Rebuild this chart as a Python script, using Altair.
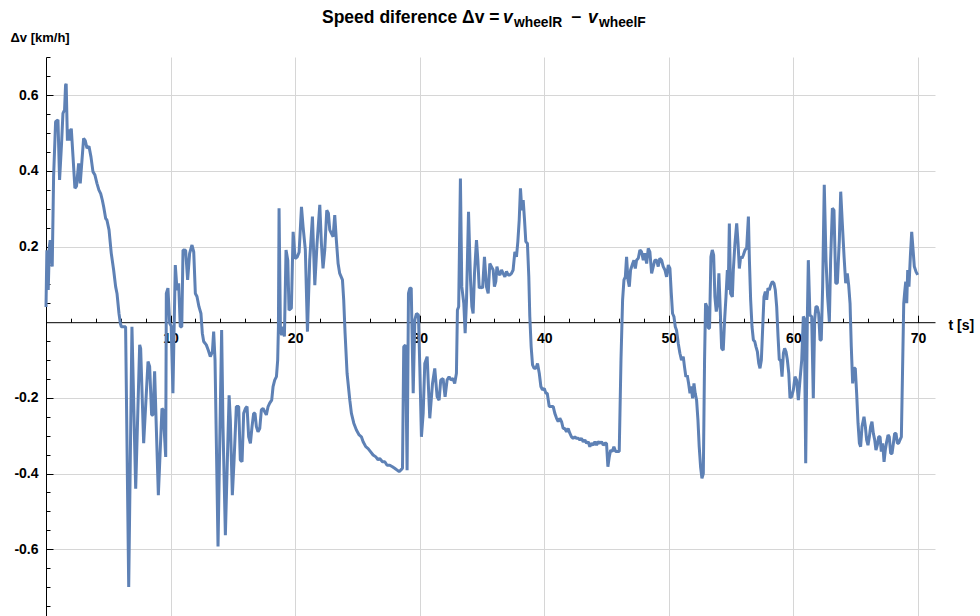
import altair as alt
import pandas as pd

# ---- data (t in s, dv in km/h) ----
t_seg1 = [0.0, 0.07, 0.18, 0.27, 0.34, 0.5, 0.61, 0.77, 0.96, 1.09, 1.25, 1.36, 1.49, 1.57, 1.62, 1.72, 1.8,
          1.9, 2.03, 2.17, 2.32, 2.45, 2.62, 2.75, 2.89, 3.02, 3.15, 3.29, 3.45, 3.61, 3.77, 3.93, 4.09, 4.25,
          4.39, 4.52, 4.63, 4.79, 4.89, 5.06, 5.24, 5.43, 5.59, 5.7, 5.86, 5.97, 6.05, 6.39]
v_seg1 = [0.04, 0.19, 0.085, 0.2, 0.217, 0.147, 0.385, 0.53, 0.535, 0.376, 0.473, 0.552, 0.561, 0.627, 0.63,
          0.48, 0.51, 0.48, 0.512, 0.437, 0.354, 0.36, 0.42, 0.367, 0.429, 0.486, 0.48, 0.46, 0.465, 0.437,
          0.398, 0.389, 0.367, 0.349, 0.34, 0.323, 0.305, 0.274, 0.27, 0.244, 0.182, 0.138, 0.094, 0.076,
          0.023, -0.003, -0.012, -0.012]

t_seg2 = [6.64, 6.9, 7.2, 7.52, 7.6, 7.84, 8.19, 8.32, 8.48, 8.59, 8.72, 9.02, 9.31, 9.4, 9.61, 9.66, 9.79,
          9.93, 10.05, 10.19, 10.38, 10.52, 10.65, 10.78, 10.9, 11.0, 11.21, 11.37, 11.53, 11.72, 11.86, 11.99,
          12.12, 12.28, 12.44]
v_seg2 = [-0.70, -0.012, -0.44, -0.06, -0.07, -0.32, -0.104, -0.117, -0.245, -0.245, -0.13, -0.457, -0.228,
          -0.232, -0.356, 0.076, 0.09, -0.003, -0.01, -0.188, 0.151, 0.085, 0.103, -0.012, -0.012, 0.191, 0.19,
          0.112, 0.182, 0.204, 0.186, 0.076, 0.068, 0.041, 0.023]

t_seg3 = [12.55, 12.66, 12.87, 13.03, 13.19, 13.36, 13.46, 13.57, 13.81, 14.1, 14.21, 14.4, 14.56, 14.7, 14.8,
          14.96, 15.1, 15.28, 15.47, 15.6, 15.74, 15.87, 16.01, 16.14, 16.27, 16.41, 16.54, 16.67, 16.78, 16.89,
          17.02, 17.16, 17.29, 17.43, 17.56, 17.69, 17.83, 17.96, 18.12, 18.23, 18.36, 18.5, 18.6, 18.66, 18.71,
          18.82, 18.92, 19.03, 19.14, 19.27, 19.41, 19.51, 19.7, 19.84, 20.0, 20.16, 20.32, 20.51, 20.64, 20.82,
          20.99, 21.17, 21.39, 21.58, 21.76, 21.98, 22.11, 22.24, 22.38, 22.54, 22.67, 22.78, 22.91, 23.05,
          23.18, 23.31, 23.45, 23.58, 23.8, 23.9, 24.01, 24.17, 24.39]
v_seg3 = [-0.029, -0.051, -0.06, -0.074, -0.091, -0.078, -0.025, -0.1, -0.593, -0.021, -0.276, -0.563, -0.364,
          -0.193, -0.259, -0.457, -0.364, -0.223, -0.223, -0.364, -0.369, -0.241, -0.228, -0.223, -0.303, -0.32,
          -0.276, -0.241, -0.241, -0.276, -0.29, -0.281, -0.232, -0.228, -0.237, -0.245, -0.223, -0.214, -0.206,
          -0.17, -0.153, -0.144, -0.1, -0.012, 0.301, -0.021, -0.034, -0.012, -0.038, 0.191, 0.164, 0.032, 0.037,
          0.239, 0.168, 0.172, 0.185, 0.305, 0.252, 0.191, -0.025, 0.164, 0.279, 0.098, 0.208, 0.31, 0.208,
          0.142, 0.191, 0.296, 0.288, 0.244, 0.235, 0.226, 0.283, 0.217, 0.155, 0.129, 0.112, 0.059, -0.029,
          -0.135, -0.206]

t_seg4 = [24.52, 24.71, 24.92, 25.14, 25.32, 25.46, 25.67, 25.86, 26.05, 26.26, 26.48, 26.66, 26.79, 27.01,
          27.2, 27.38, 27.6, 27.81, 27.99, 28.19, 28.35, 28.48, 28.62, 28.72, 28.86, 28.99, 29.1, 29.21, 29.32,
          29.48, 29.61, 29.74, 29.9, 30.01, 30.14, 30.28, 30.41, 30.6, 30.81, 31.03, 31.21, 31.4, 31.56, 31.69,
          31.88, 32.04, 32.2, 32.36, 32.52, 32.68, 32.81, 32.95, 33.03, 33.13, 33.27, 33.38, 33.54, 33.65, 33.76,
          33.92, 34.08, 34.19, 34.29, 34.4, 34.56, 34.67, 34.78, 34.94, 35.05, 35.2, 35.36, 35.5]
v_seg4 = [-0.241, -0.267, -0.285, -0.298, -0.303, -0.316, -0.329, -0.334, -0.342, -0.351, -0.356, -0.364,
          -0.36, -0.369, -0.369, -0.378, -0.378, -0.382, -0.386, -0.391, -0.395, -0.391, -0.386, -0.065, -0.06,
          -0.391, 0.076, 0.09, 0.09, -0.188, 0.006, 0.023, 0.019, -0.118, -0.303, -0.241, -0.109, -0.091, -0.254,
          -0.162, -0.122, -0.197, -0.206, -0.153, -0.149, -0.197, -0.153, -0.144, -0.153, -0.149, -0.162, -0.135,
          0.032, 0.041, 0.38, 0.094, 0.05, -0.029, 0.059, 0.292, 0.112, 0.041, 0.023, 0.129, 0.217, 0.164, 0.09,
          0.094, 0.09, 0.173, 0.094, 0.076]

t_seg5 = [35.63, 35.76, 35.9, 36.0, 36.11, 36.2, 36.33, 36.44, 36.57, 36.7, 36.84, 36.97, 37.1, 37.24, 37.37,
          37.5, 37.64, 37.77, 37.88, 37.99, 38.09, 38.2, 38.31, 38.41, 38.52, 38.65, 38.76, 38.84, 38.95, 39.06,
          39.19, 39.33, 39.46, 39.6, 39.73, 39.86, 40.0, 40.13, 40.24, 40.4, 40.58, 40.72, 40.85, 40.99, 41.12,
          41.25, 41.39, 41.52, 41.65, 41.79, 41.92, 42.06, 42.19, 42.32, 42.46, 42.59, 42.73, 42.86, 42.99,
          43.13, 43.26, 43.4, 43.53, 43.66, 43.8, 43.93, 44.07, 44.2, 44.33, 44.47, 44.6, 44.74, 44.87, 45.0,
          45.11, 45.22, 45.33, 45.46, 45.59, 45.73, 45.86, 46.02, 46.16, 46.29, 46.4, 46.51, 46.61, 46.72,
          46.83, 46.93, 47.1, 47.2, 47.31, 47.41, 47.55]
v_seg5 = [0.155, 0.147, 0.138, 0.094, 0.107, 0.147, 0.129, 0.125, 0.138, 0.129, 0.12, 0.134, 0.125, 0.125,
          0.129, 0.138, 0.186, 0.173, 0.213, 0.27, 0.354, 0.296, 0.323, 0.274, 0.213, 0.208, 0.12, 0.015, -0.065,
          -0.113, -0.122, -0.122, -0.109, -0.135, -0.17, -0.179, -0.175, -0.188, -0.188, -0.223, -0.223, -0.223,
          -0.241, -0.254, -0.263, -0.254, -0.263, -0.281, -0.281, -0.29, -0.281, -0.294, -0.303, -0.307, -0.303,
          -0.307, -0.307, -0.311, -0.307, -0.316, -0.311, -0.32, -0.316, -0.329, -0.32, -0.325, -0.316, -0.325,
          -0.316, -0.32, -0.316, -0.325, -0.32, -0.32, -0.382, -0.356, -0.338, -0.342, -0.329, -0.342, -0.342,
          -0.342, -0.1, 0.059, 0.112, 0.12, 0.173, 0.112, 0.094, 0.138, 0.155, 0.164, 0.142, 0.164, 0.169]

t_seg6 = [47.68, 47.81, 47.95, 48.08, 48.22, 48.35, 48.48, 48.62, 48.75, 48.88, 49.02, 49.15, 49.28, 49.42,
          49.55, 49.69, 49.82, 49.96, 50.09, 50.2, 50.3, 50.41, 50.52, 50.62, 50.76, 50.89, 51.02, 51.16, 51.26,
          51.37, 51.48, 51.59, 51.7, 51.8, 51.91, 52.02, 52.12, 52.23, 52.34, 52.44, 52.55, 52.66, 52.77, 52.87,
          52.95, 53.06, 53.17, 53.27, 53.38, 53.49, 53.6, 53.7, 53.81, 53.92, 54.02, 54.13, 54.24, 54.37, 54.48,
          54.59, 54.7, 54.77, 54.86, 54.96, 55.1, 55.18, 55.31, 55.45, 55.56, 55.66, 55.77, 55.88, 55.98, 56.12,
          56.25, 56.39, 56.47, 56.57, 56.68, 56.79, 56.9, 57.0, 57.11, 57.22, 57.32, 57.43, 57.54, 57.64, 57.75,
          57.86, 57.96, 58.07, 58.18, 58.31, 58.44, 58.55, 58.66, 58.77, 58.87, 58.98, 59.09, 59.2, 59.3, 59.41,
          59.52, 59.63]
v_seg6 = [0.191, 0.186, 0.164, 0.182, 0.155, 0.195, 0.186, 0.129, 0.147, 0.164, 0.164, 0.147, 0.169, 0.164,
          0.147, 0.138, 0.12, 0.151, 0.142, 0.076, 0.023, 0.015, -0.012, -0.021, -0.056, -0.082, -0.1, -0.091,
          -0.118, -0.144, -0.14, -0.162, -0.188, -0.17, -0.201, -0.162, -0.188, -0.206, -0.259, -0.329, -0.382,
          -0.413, -0.4, -0.1, 0.05, 0.041, -0.016, -0.016, 0.173, 0.191, 0.177, 0.067, 0.028, 0.05, 0.129, 0.032,
          -0.069, -0.074, 0.006, 0.067, 0.138, 0.085, 0.261, 0.076, 0.067, 0.138, 0.208, 0.261, 0.208, 0.142,
          0.173, 0.169, 0.177, 0.191, 0.195, 0.279, 0.164, 0.059, -0.012, -0.047, -0.051, -0.065, -0.078, -0.109,
          -0.122, -0.1, -0.012, 0.067, 0.081, 0.059, 0.09, 0.085, 0.098, 0.107, 0.103, 0.085, 0.041, -0.038,
          -0.1, -0.1, -0.144, -0.082, -0.069, -0.078, -0.1, -0.135]

t_seg7 = [59.73, 59.86, 60.0, 60.13, 60.26, 60.4, 60.53, 60.67, 60.8, 60.88, 60.99, 61.12, 61.2, 61.33, 61.47,
          61.6, 61.71, 61.81, 61.92, 62.03, 62.14, 62.24, 62.35, 62.48, 62.62, 62.75, 62.89, 62.99, 63.13, 63.26,
          63.4, 63.53, 63.69, 63.8, 63.93, 64.07, 64.2, 64.33, 64.44, 64.55, 64.65, 64.76, 64.87, 64.97, 65.08,
          65.19, 65.3, 65.4, 65.51, 65.67, 65.78, 65.88, 65.99, 66.1, 66.2, 66.31, 66.42, 66.53, 66.63, 66.74,
          66.85, 66.96, 67.06, 67.17, 67.28, 67.38, 67.49, 67.6, 67.7, 67.81, 67.92, 68.03, 68.13, 68.24, 68.35,
          68.45, 68.56, 68.67, 68.78, 68.86, 68.94, 69.02, 69.1, 69.18, 69.28, 69.39, 69.5, 69.61, 69.71, 69.85,
          69.98]
v_seg7 = [-0.2, -0.197, -0.179, -0.144, -0.153, -0.206, -0.153, -0.1, 0.015, 0.01, -0.373, 0.006, 0.164,
          0.019, 0.015, -0.201, 0.006, 0.041, 0.041, 0.023, -0.047, -0.047, 0.094, 0.363, 0.164, 0.067, 0.001,
          0.164, 0.301, 0.296, 0.103, 0.103, 0.217, 0.345, 0.261, 0.173, 0.103, 0.129, 0.098, 0.05, -0.065,
          -0.162, -0.122, -0.122, -0.188, -0.267, -0.32, -0.329, -0.276, -0.25, -0.276, -0.311, -0.325, -0.303,
          -0.276, -0.263, -0.294, -0.311, -0.338, -0.325, -0.303, -0.303, -0.342, -0.32, -0.369, -0.338, -0.316,
          -0.298, -0.303, -0.347, -0.347, -0.32, -0.294, -0.294, -0.32, -0.32, -0.311, -0.303, -0.1, 0.05, 0.081,
          0.107, 0.05, 0.138, 0.094, 0.173, 0.239, 0.191, 0.147, 0.133, 0.125]

t_all = t_seg1 + t_seg2 + t_seg3 + t_seg4 + t_seg5 + t_seg6 + t_seg7
v_all = v_seg1 + v_seg2 + v_seg3 + v_seg4 + v_seg5 + v_seg6 + v_seg7
df = pd.DataFrame({"t": t_all, "v": v_all})

# ---- axes / ticks ----
x_major = [10, 20, 30, 40, 50, 60, 70]
x_minor = [2, 4, 6, 8, 12, 14, 16, 18, 22, 24, 26, 28, 32, 34, 36, 38, 42, 44, 46, 48, 52, 54, 56, 58,
           62, 64, 66, 68]
y_major = [-0.6, -0.4, -0.2, 0.2, 0.4, 0.6]
y_minor = [-0.75, -0.7, -0.65, -0.55, -0.5, -0.45, -0.35, -0.3, -0.25, -0.15, -0.1, -0.05,
           0.05, 0.1, 0.15, 0.25, 0.3, 0.35, 0.45, 0.5, 0.55, 0.65, 0.7]

X_MIN, X_MAX = 0.0, 71.37
Y_MIN, Y_MAX = -0.7766, 0.701
W, H = 889, 559
PAD_L, PAD_T = 46, 57

frac_top = Y_MAX / (Y_MAX - Y_MIN)
off_top = -H * frac_top
off_bottom = -H * (1 - frac_top)

FONT = "Liberation Sans"
LINE_COLOR = "#5E81B5"
GRID_COLOR = "#d6d6d6"

xs = alt.Scale(domain=[X_MIN, X_MAX], nice=False, zero=False)
ys = alt.Scale(domain=[Y_MIN, Y_MAX], nice=False, zero=False)

base = alt.Chart(df)

grid = base.mark_line(strokeOpacity=0).encode(
    x=alt.X("t:Q", scale=xs, axis=alt.Axis(orient="bottom", values=x_major, grid=True, gridColor=GRID_COLOR,
                                           gridWidth=1, domain=False, ticks=False, labels=False, title="",
                                           zindex=0)),
    y=alt.Y("v:Q", scale=ys, axis=alt.Axis(orient="left", values=y_major, grid=True, gridColor=GRID_COLOR,
                                           gridWidth=1, domain=False, ticks=False, labels=False, title="",
                                           zindex=0)),
)

line = base.mark_line(color=LINE_COLOR, strokeWidth=3, strokeJoin="bevel").encode(
    x=alt.X("t:Q", scale=xs, axis=alt.Axis(
        orient="bottom", offset=off_bottom, values=x_major, format="d", grid=False, ticks=False, tickSize=0,
        domain=True, domainColor="#000000", domainWidth=1, labelFont=FONT, labelFontSize=14,
        labelFontWeight="bold", labelColor="#000000", labelPadding=9, labelOverlap=False, labelFlush=False,
        title="t [s]", titleFont=FONT, titleFontSize=14, titleFontWeight="bold", titleColor="#000000",
        titleAngle=0, titleAlign="left", titleBaseline="middle", titleX=948 - PAD_L, titleY=3, zindex=0)),
    y=alt.Y("v:Q", scale=ys, axis=alt.Axis(
        orient="left", values=y_major, grid=False, ticks=False, tickSize=0,
        labelExpr="(datum.value < 0 ? '-' : '') + format(abs(datum.value), '.1f')",
        domain=True, domainColor="#000000", domainWidth=1, labelFont=FONT, labelFontSize=14,
        labelFontWeight="bold", labelColor="#000000", labelPadding=8, labelOverlap=False, labelFlush=False,
        title="Δv [km/h]", titleFont=FONT, titleFontSize=13, titleFontWeight="bold", titleColor="#000000",
        titleAngle=0, titleAlign="left", titleBaseline="middle", titleX=10 - PAD_L, titleY=37 - PAD_T,
        zindex=0)),
)

ticks_major = base.mark_line(strokeOpacity=0).encode(
    x=alt.X("t:Q", scale=xs, axis=alt.Axis(orient="top", offset=off_top, values=x_major, grid=False,
                                           domain=False, labels=False, ticks=True, tickSize=7,
                                           tickColor="#000000", tickWidth=1, title="", zindex=0)),
    y=alt.Y("v:Q", scale=ys, axis=alt.Axis(orient="right", offset=-W, values=y_major, grid=False,
                                           domain=False, labels=False, ticks=True, tickSize=7,
                                           tickColor="#000000", tickWidth=1, title="", zindex=0)),
)

ticks_minor = base.mark_line(strokeOpacity=0).encode(
    x=alt.X("t:Q", scale=xs, axis=alt.Axis(orient="top", offset=off_top, values=x_minor, grid=False,
                                           domain=False, labels=False, ticks=True, tickSize=4,
                                           tickColor="#000000", tickWidth=1, title="", zindex=0)),
    y=alt.Y("v:Q", scale=ys, axis=alt.Axis(orient="right", offset=-W, values=y_minor, grid=False,
                                           domain=False, labels=False, ticks=True, tickSize=4,
                                           tickColor="#000000", tickWidth=1, title="", zindex=0)),
)

# ---- title pieces (rich text: italic v with subscripts) ----
one = pd.DataFrame({"k": [0]})
title_parts = ["Speed diference Δv =", "v", "wheelR", "−", "v", "wheelF"]
title_x = [322, 503, 514, 571, 588, 599]
title_y = [23, 23, 27, 23, 23, 27]
title_size = [17.5, 17.5, 13.8, 17.5, 17.5, 13.8]
title_style = ["normal", "italic", "normal", "normal", "italic", "normal"]

title_layers = []
for txt, px, py, fs, st in zip(title_parts, title_x, title_y, title_size, title_style):
    title_layers.append(
        alt.Chart(one).mark_text(text=txt, align="left", baseline="alphabetic", font=FONT, fontSize=fs,
                                 fontWeight="bold", fontStyle=st, color="#000000").encode(
            x=alt.value(px - PAD_L), y=alt.value(py - PAD_T))
    )

chart = alt.layer(grid, ticks_minor, ticks_major, line, *title_layers).resolve_axis(
    x="independent", y="independent"
).properties(
    width=W, height=H,
    autosize=alt.AutoSizeParams(type="none"),
    padding={"left": PAD_L, "top": PAD_T, "right": 980 - PAD_L - W, "bottom": 0},
    background="white",
).configure_view(strokeWidth=0)

chart.save("out.html", embed_options={"renderer": "svg", "actions": False})
